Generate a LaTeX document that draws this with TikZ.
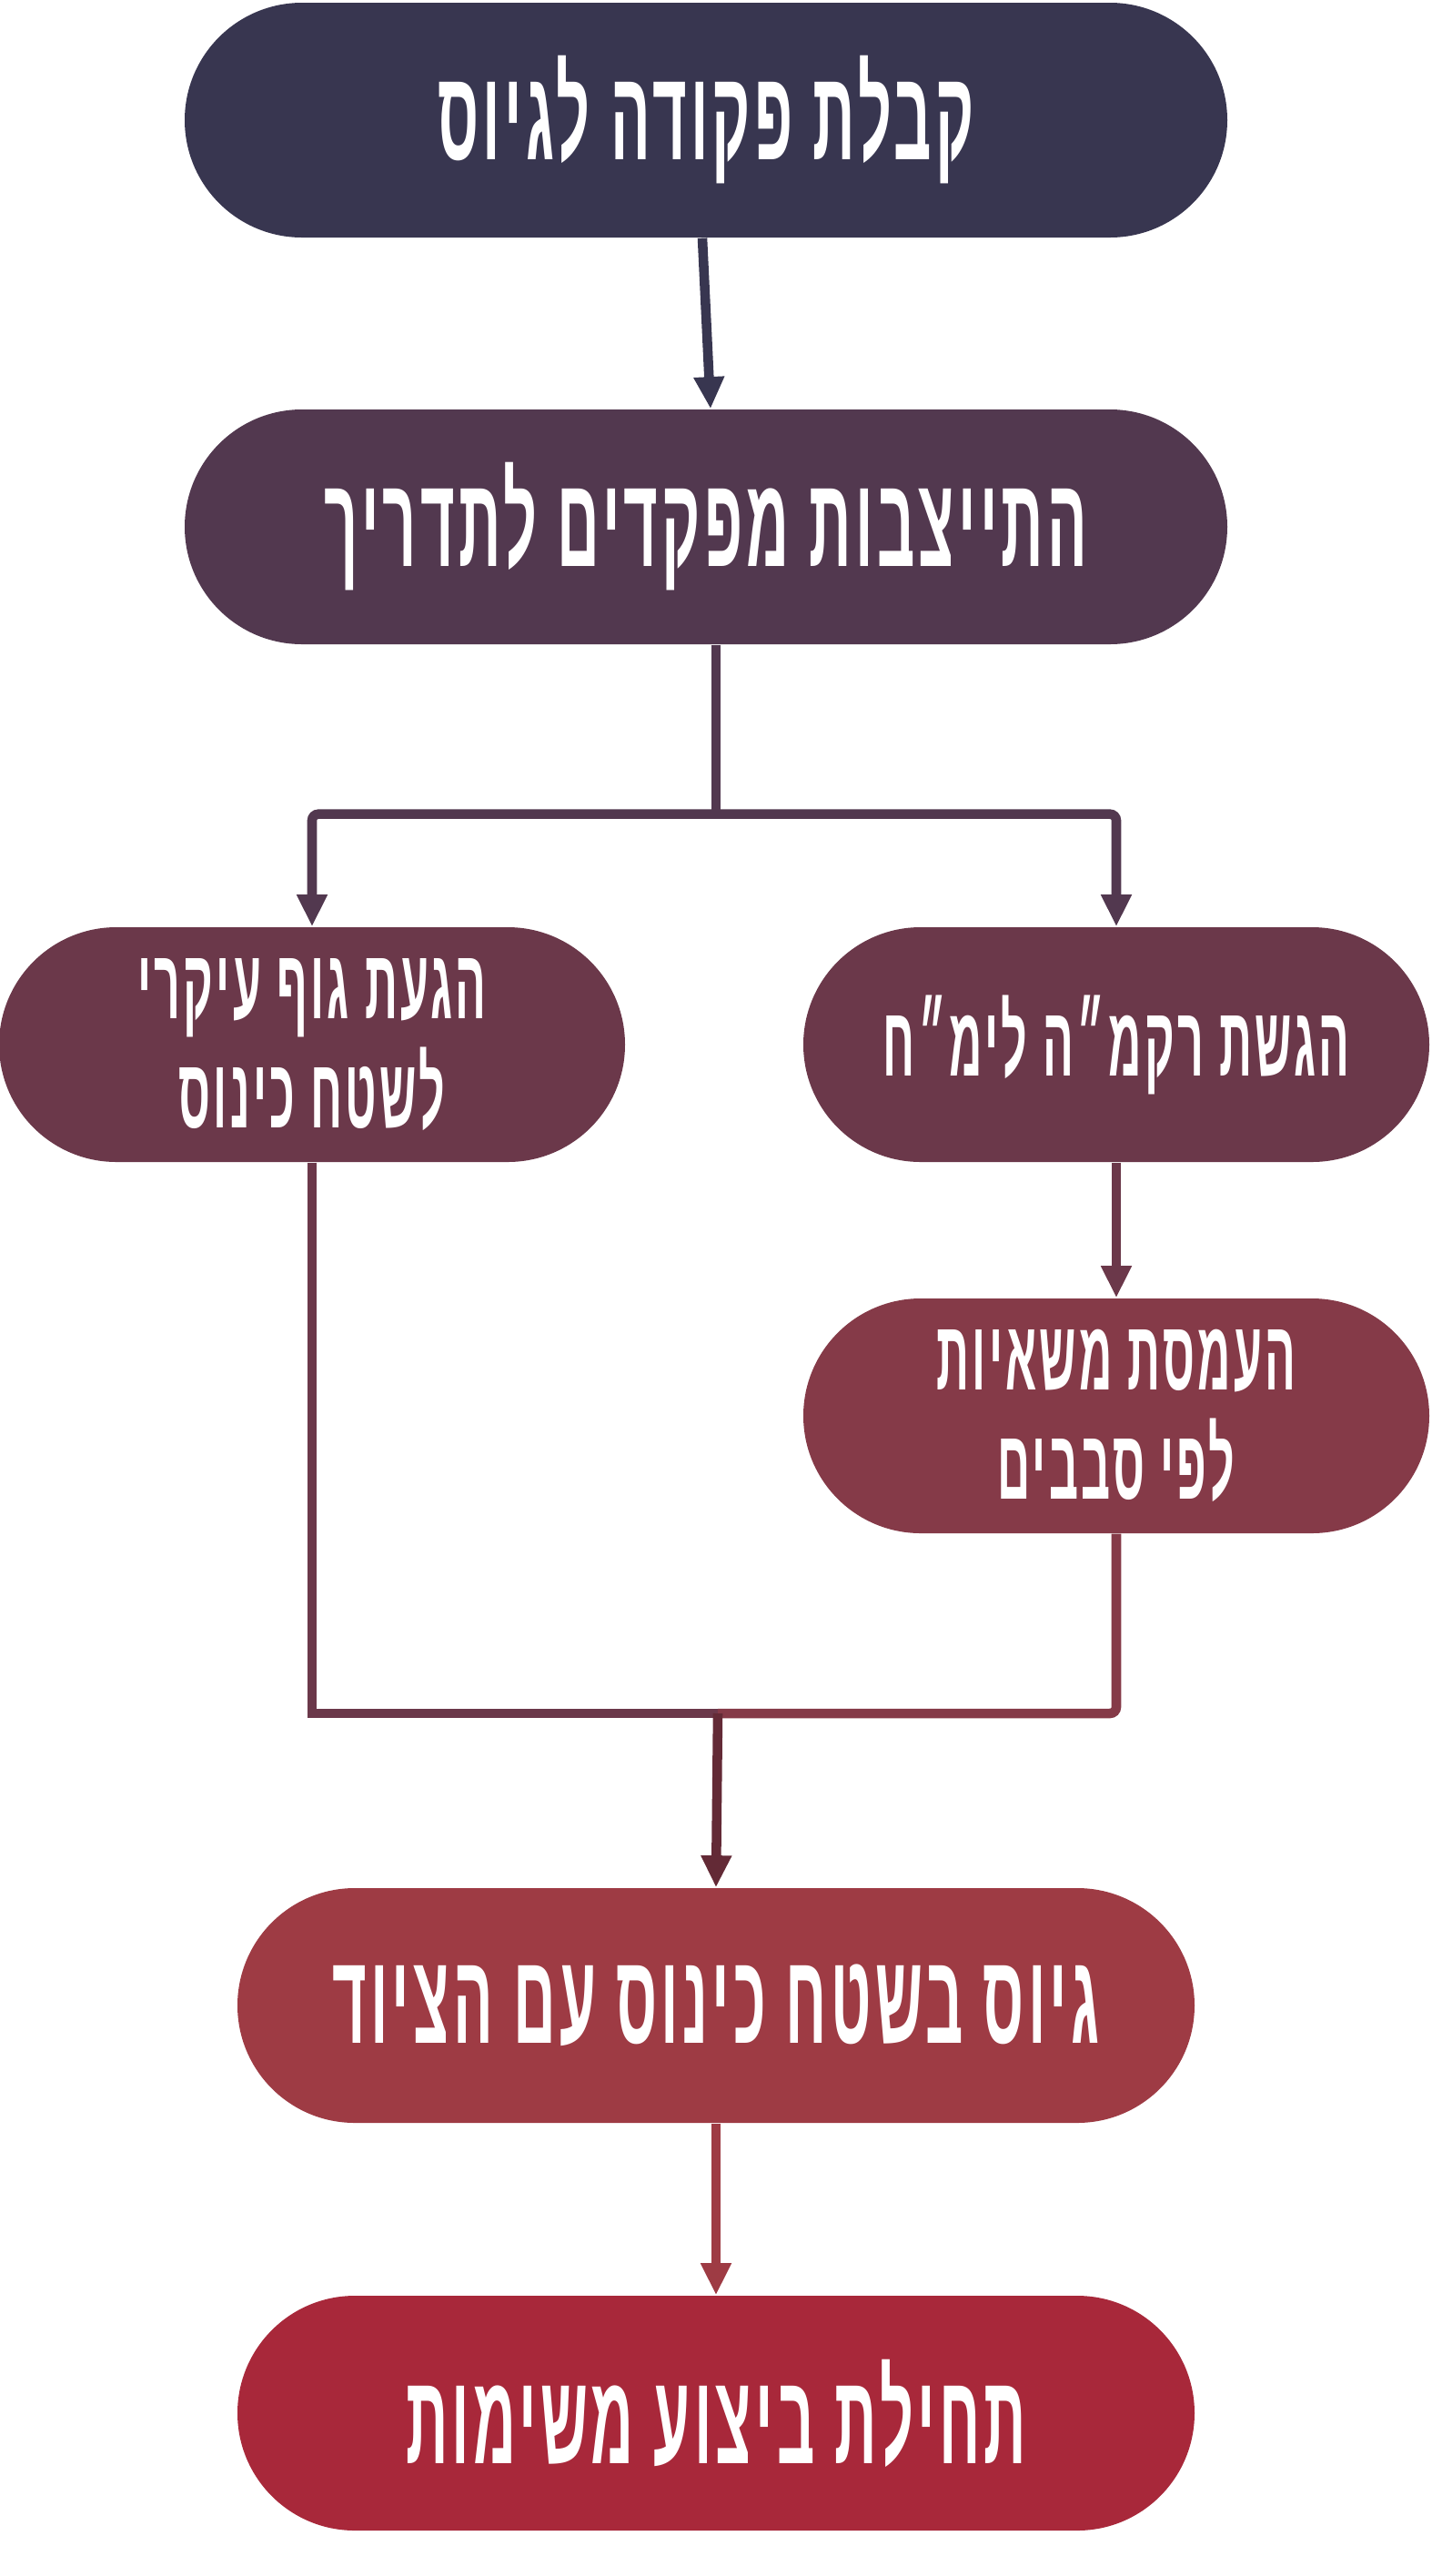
\documentclass[tikz,border=0pt]{standalone}
\usepackage{fontspec}
\usetikzlibrary{arrows.meta}
\TeXXeTstate=1
\newfontfamily\hebfont[Script=Hebrew,FakeStretch=0.46,LetterSpace=3]{Liberation Sans}

\definecolor{tonoA}{RGB}{56,54,80}
\definecolor{tonoB}{RGB}{82,56,79}
\definecolor{tonoC}{RGB}{107,56,74}
\definecolor{tonoD}{RGB}{133,58,72}
\definecolor{tonoE}{RGB}{158,59,68}
\definecolor{tonoF}{RGB}{168,40,58}
\definecolor{tonoU}{RGB}{99,42,54}

\tikzset{
    paso/.style={rectangle, rounded corners=1.29cm, minimum height=2.58cm,
        inner sep=0pt, text=white, align=center},
    grande/.style={font=\hebfont\bfseries\fontsize{40}{46}\selectfont},
    chico/.style={font=\hebfont\bfseries\fontsize{31}{34}\selectfont},
    linea/.style={line width=3pt},
    flecha/.style={line width=3pt, -{Triangle[width=9pt,length=10pt]}},
}

\begin{document}
\begin{tikzpicture}
    \useasboundingbox (0,0) rectangle (15.74,-28.31);

    % ~~~~ Pasos ~~~~ %
    \node[paso, grande, fill=tonoA, minimum width=11.46cm] (orden) at (7.76,-1.32)
        {\beginR קבלת פקודה לגיוס\endR};
    \node[paso, grande, fill=tonoB, minimum width=11.46cm] (tadrich) at (7.76,-5.79)
        {\beginR התייצבות מפקדים לתדריך\endR};
    \node[paso, chico, fill=tonoC, minimum width=6.88cm] (guf) at (3.43,-11.48)
        {\beginR הגעת גוף עיקרי\endR\\\beginR לשטח כינוס\endR};
    \node[paso, chico, fill=tonoC, minimum width=6.88cm] (rekem) at (12.27,-11.48)
        {\beginR הגשת רקמ״ה לימ״ח\endR};
    \node[paso, chico, fill=tonoD, minimum width=6.88cm] (haamasa) at (12.27,-15.56)
        {\beginR העמסת משאיות\endR\\\beginR לפי סבבים\endR};
    \node[paso, grande, fill=tonoE, minimum width=10.52cm] (kinus) at (7.87,-22.04)
        {\beginR גיוס בשטח כינוס עם הציוד\endR};
    \node[paso, grande, fill=tonoF, minimum width=10.52cm] (bitzua) at (7.87,-26.52)
        {\beginR תחילת ביצוע משימות\endR};

    % ~~~~ Flechas ~~~~ %
    \draw[flecha, color=tonoA] ([xshift=-0.4mm]orden.south) -- ([xshift=0.5mm]tadrich.north);

    \draw[linea, color=tonoB] ([xshift=1.1mm]tadrich.south) -- ++(0,-1.86) coordinate (reparto);
    \draw[flecha, color=tonoB, rounded corners=2pt] (reparto) -| (guf.north);
    \draw[flecha, color=tonoB, rounded corners=2pt] (reparto) -| (rekem.north);

    \draw[flecha, color=tonoC] (rekem) -- (haamasa);

    \coordinate (junta) at (7.89,-18.83);
    \draw[linea, color=tonoC] (guf.south) |- (junta);
    \draw[linea, color=tonoD, rounded corners=2pt] (haamasa.south) |- (junta);
    \draw[flecha, color=tonoU] (junta) -- (kinus.north);

    \draw[flecha, color=tonoE] (kinus) -- (bitzua);
\end{tikzpicture}
\end{document}
